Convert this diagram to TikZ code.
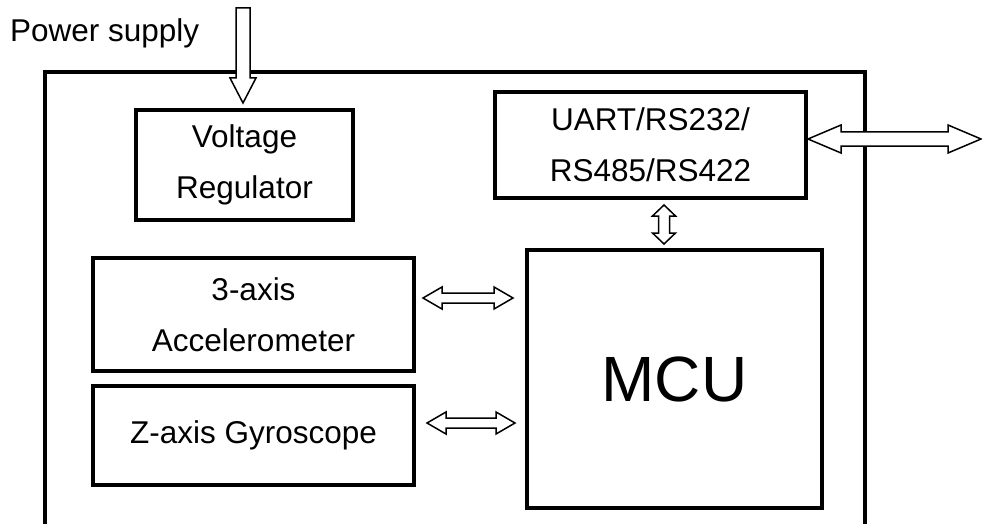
\documentclass[tikz,border=0pt]{standalone}
\usepackage{fontspec}
\setmainfont{Liberation Sans}
\usetikzlibrary{calc}
\tikzset{
  blk/.style={draw, line width=4pt, inner sep=0pt, align=center,
    font=\fontsize{31.5}{51}\selectfont},
  frame/.style={line width=4pt},
  arr/.style={draw, fill=white, line width=1.5pt, line join=miter},
}
% horizontal double arrow: #1 left tip, #2 right tip, #3 shaft half, #4 head half, #5 head length
\newcommand\hdarrow[5]{%
  \path[arr] let \p1=(#1), \p2=(#2) in
    (\x1,\y1) -- (\x1+#5,\y1+#4) -- (\x1+#5,\y1+#3) -- (\x2-#5,\y1+#3) -- (\x2-#5,\y1+#4)
    -- (\x2,\y1) -- (\x2-#5,\y1-#4) -- (\x2-#5,\y1-#3) -- (\x1+#5,\y1-#3) -- (\x1+#5,\y1-#4) -- cycle;}
% vertical double arrow: #1 top tip, #2 bottom tip
\newcommand\vdarrow[5]{%
  \path[arr] let \p1=(#1), \p2=(#2) in
    (\x1,\y1) -- (\x1+#4,\y1-#5) -- (\x1+#3,\y1-#5) -- (\x1+#3,\y2+#5) -- (\x1+#4,\y2+#5)
    -- (\x1,\y2) -- (\x1-#4,\y2+#5) -- (\x1-#3,\y2+#5) -- (\x1-#3,\y1-#5) -- (\x1-#4,\y1-#5) -- cycle;}
\begin{document}
\begin{tikzpicture}[x=1pt,y=-1pt]
\useasboundingbox (0,0) rectangle (982,524);
% outer frame (open at the bottom)
\draw[frame] (45,540) -- (45,72) -- (865,72) -- (865,540);

\node[blk, minimum width=217pt, minimum height=110pt] (vreg) at (244.5,165) {Voltage\\Regulator};
\node[blk, minimum width=321pt, minimum height=113pt] (acc) at (253.5,314.5) {3-axis\\Accelerometer};
\node[blk, minimum width=321pt, minimum height=99pt] (gyro) at (253.5,435.5) {Z-axis Gyroscope};
\node[blk, minimum width=311pt, minimum height=106pt] (uart) at (650.5,145) {UART/RS232/\\RS485/RS422};
\node[blk, minimum width=295pt, minimum height=258pt, font=\fontsize{64}{70}\selectfont] (mcu) at (674.5,379) {MCU};

\node[anchor=base west, inner sep=0pt, font=\fontsize{31.5}{38}\selectfont] (ps) at (10,42) {Power supply};

% power supply arrow
\coordinate (pstail) at (243,8);
\coordinate (pstip) at ($(vreg.north -| pstail)+(0,-5)$);
\path[arr] let \p1=(pstail), \p2=(pstip) in
  (\x1-7pt,\y1) -- (\x1+7pt,\y1) -- (\x1+7pt,\y2+25pt) -- (\x1+13pt,\y2+25pt)
  -- (\x1,\y2) -- (\x1-13pt,\y2+25pt) -- (\x1-7pt,\y2+25pt) -- cycle;

% external link of the UART
\coordinate (ext) at (uart.east -| 981,0);
\hdarrow{uart.east |- 0,139}{981,139}{7pt}{14pt}{33pt}

% UART <-> MCU
\coordinate (um1) at ($(uart.south)+(13.5,5)$);
\coordinate (um2) at ($(mcu.north)+(-10.5,-4)$);
\vdarrow{um1}{um1 |- um2}{5.5pt}{11.5pt}{11pt}

% sensors <-> MCU
\coordinate (a1) at (423,298);
\coordinate (a2) at (513,298);
\hdarrow{a1}{a2}{5pt}{11pt}{19pt}
\coordinate (g1) at (427,423);
\coordinate (g2) at (515,423);
\hdarrow{g1}{g2}{5pt}{11pt}{19pt}
\end{tikzpicture}
\end{document}
